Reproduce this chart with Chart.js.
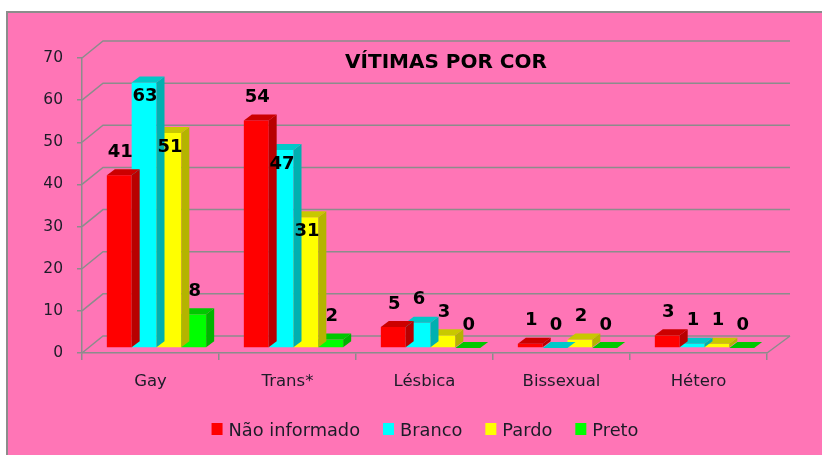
<!DOCTYPE html>
<html>
<head>
<meta charset="utf-8">
<script src="https://cdn.jsdelivr.net/npm/chart.js@4.4.0/dist/chart.umd.min.js"></script>
<style>
  html, body { margin: 0; padding: 0; background: #fff; }
  #wrap { width: 822px; height: 455px; }
</style>
</head>
<body>
<div id="wrap"><canvas id="chart" width="822" height="455"></canvas></div>
<script>
// data
const categories = ['Gay', 'Trans*', 'Lésbica', 'Bissexual', 'Hétero'];
const seriesNames = ['Não informado', 'Branco', 'Pardo', 'Preto'];
const naoInformado = [41, 54, 5, 1, 3];
const branco = [63, 47, 6, 0, 1];
const pardo = [51, 31, 3, 2, 1];
const preto = [8, 2, 0, 0, 0];
const chartTitle = 'VÍTIMAS POR COR';

const PINK = '#ff75b6';
const GRID = '#8c8c8c';
const TEXT = '#1c1c28';
const FONT = '"DejaVu Sans", Verdana, sans-serif';

const fronts = ['#ff0000', '#00ffff', '#ffff00', '#00ff00'];
const sides = ['#b80000', '#00b0b0', '#b4b400', '#00b400'];
const tops = ['#cc0000', '#00c8c8', '#c8c800', '#00c800'];
// labels of tall cyan / yellow bars sit inside the bar top in the original
const labelInside = [false, true, true, false];

const WALL_DX = 21, WALL_DY = -17;   // depth of the walls
const SHIFT_X = 6, SHIFT_Y = -5;     // bars sit a bit behind the front plane
const BAR_DX = 8, BAR_DY = -6;       // bar depth

const fake3d = {
  id: 'fake3d',
  beforeDraw(chart) {
    const { ctx, width, height } = chart;
    ctx.save();
    ctx.fillStyle = '#fff';
    ctx.fillRect(0, 0, width, height);
    ctx.fillStyle = PINK;
    ctx.fillRect(7, 12, width, height);
    ctx.strokeStyle = GRID;
    ctx.lineWidth = 2;
    ctx.beginPath();
    ctx.moveTo(7, height + 2);
    ctx.lineTo(7, 12);
    ctx.lineTo(width + 2, 12);
    ctx.stroke();
    ctx.restore();
  },
  beforeDatasetsDraw(chart) {
    const { ctx, chartArea: a, scales: { y } } = chart;
    ctx.save();
    ctx.strokeStyle = GRID;
    ctx.lineWidth = 1.5;
    y.ticks.forEach((t) => {
      const fy = y.getPixelForValue(t.value);
      ctx.beginPath();
      ctx.moveTo(a.left, fy);
      ctx.lineTo(a.left + WALL_DX, fy + WALL_DY);
      ctx.lineTo(a.right + WALL_DX + 2, fy + WALL_DY);
      ctx.stroke();
    });
    const y0 = y.getPixelForValue(0);
    ctx.beginPath();
    ctx.moveTo(a.right, y0);
    ctx.lineTo(a.right + WALL_DX + 2, y0 + WALL_DY);
    ctx.stroke();
    ctx.restore();

    ctx.save();
    ctx.translate(SHIFT_X, SHIFT_Y);
  },
  afterDatasetDraw(chart, args) {
    const { ctx } = chart;
    const i = args.index;
    args.meta.data.forEach((bar) => {
      const { x, y, base, width } = bar.getProps(['x', 'y', 'base', 'width'], true);
      const l = x - width / 2, r = x + width / 2;
      ctx.fillStyle = sides[i];
      ctx.beginPath();
      ctx.moveTo(r, y);
      ctx.lineTo(r + BAR_DX, y + BAR_DY);
      ctx.lineTo(r + BAR_DX, base + BAR_DY);
      ctx.lineTo(r, base);
      ctx.closePath();
      ctx.fill();
      ctx.fillStyle = tops[i];
      ctx.beginPath();
      ctx.moveTo(l, y);
      ctx.lineTo(l + BAR_DX, y + BAR_DY);
      ctx.lineTo(r + BAR_DX, y + BAR_DY);
      ctx.lineTo(r, y);
      ctx.closePath();
      ctx.fill();
    });
  },
  afterDatasetsDraw(chart) {
    const { ctx } = chart;
    // value labels, still in the shifted frame
    ctx.font = `bold 18px ${FONT}`;
    ctx.fillStyle = '#000';
    ctx.textAlign = 'center';
    ctx.textBaseline = 'middle';
    chart.data.datasets.forEach((ds, i) => {
      chart.getDatasetMeta(i).data.forEach((bar, j) => {
        const v = ds.data[j];
        const inside = labelInside[i] && v >= 20;
        ctx.fillText(String(v), bar.x + 1, inside ? bar.y + 14 : bar.y - 23);
      });
    });
    ctx.restore();

    // title
    ctx.save();
    ctx.font = `bold 20px ${FONT}`;
    ctx.fillStyle = '#000';
    ctx.textAlign = 'center';
    ctx.textBaseline = 'alphabetic';
    ctx.fillText(chartTitle, 446, 68);

    // legend
    ctx.font = `17.8px ${FONT}`;
    ctx.textAlign = 'left';
    const box = 11, gap = 6, spacing = 23;
    const widths = seriesNames.map((s) => ctx.measureText(s).width);
    const total = widths.reduce((s, w) => s + box + gap + w, 0) + spacing * (widths.length - 1);
    let lx = 425 - total / 2;
    seriesNames.forEach((name, i) => {
      ctx.fillStyle = fronts[i];
      ctx.fillRect(lx, 423, box, 12);
      ctx.fillStyle = TEXT;
      ctx.fillText(name, lx + box + gap, 436);
      lx += box + gap + widths[i] + spacing;
    });
    ctx.restore();
  },
};

const seriesData = [naoInformado, branco, pardo, preto];

new Chart(document.getElementById('chart'), {
  type: 'bar',
  data: {
    labels: categories,
    datasets: seriesNames.map((name, i) => ({
      label: name,
      data: seriesData[i],
      backgroundColor: fronts[i],
      borderWidth: 0,
      categoryPercentage: 0.725,
      barPercentage: 1,
      clip: false,
    })),
  },
  options: {
    responsive: false,
    devicePixelRatio: 1,
    animation: false,
    layout: { padding: { left: 0, top: 58, right: 55, bottom: 0 } },
    plugins: {
      legend: { display: false },
      title: { display: false },
      tooltip: { enabled: false },
    },
    scales: {
      x: {
        afterFit: (s) => { s.height = 102; },
        grid: { drawOnChartArea: false, drawTicks: true, tickLength: 7, color: GRID, lineWidth: 1.5 },
        border: { display: true, color: GRID, width: 1.5 },
        ticks: { color: TEXT, font: { family: FONT, size: 16.5 }, padding: 12 },
      },
      y: {
        min: 0,
        max: 70,
        afterFit: (s) => { s.width = 82; },
        grid: { drawOnChartArea: false, drawTicks: true, tickLength: 5, color: GRID, lineWidth: 1.5 },
        border: { display: true, color: GRID, width: 1.5 },
        ticks: { stepSize: 10, color: TEXT, font: { family: FONT, size: 15.5 }, padding: 14 },
      },
    },
  },
  plugins: [fake3d],
});
</script>
</body>
</html>
